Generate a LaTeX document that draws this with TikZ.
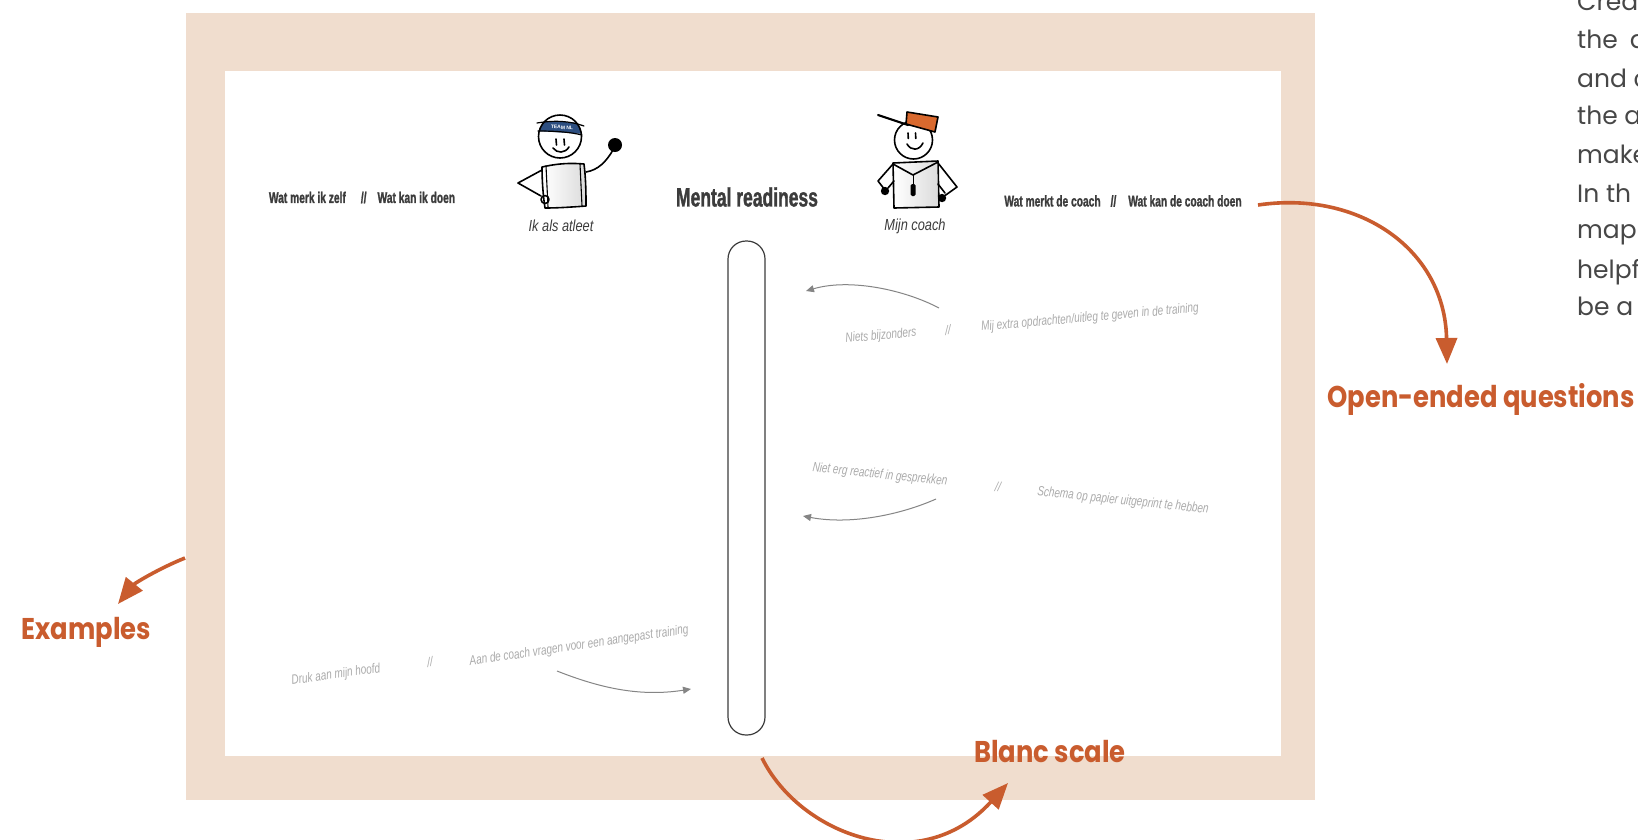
\documentclass[tikz,border=0pt]{standalone}
\usepackage{fontspec}
\usetikzlibrary{arrows.meta}
\setmainfont{Liberation Sans}
\newfontfamily\condfont{Liberation Sans Bold}[FakeStretch=0.66, FakeBold=1.3]
\newfontfamily\whofont{Liberation Sans}[FakeStretch=0.8]
\newfontfamily\samplefont{Liberation Sans}[FakeStretch=0.74]
\newfontfamily\labelfont{Poppins}[FakeStretch=0.86]
\newfontfamily\bodyfont{Poppins}

\definecolor{frame}{HTML}{F0DDCE}
\definecolor{accent}{HTML}{C95C2E}
\definecolor{sample}{HTML}{ABABAB}
\definecolor{ink}{HTML}{3C3C3C}
\definecolor{bodyink}{HTML}{474747}
\definecolor{capcol}{HTML}{D9692E}
\definecolor{band}{HTML}{2C4E80}
\definecolor{hintcol}{HTML}{858585}

\tikzset{
  hdr/.style={font=\condfont\fontsize{15.5}{18}\selectfont, text=ink, inner sep=0pt},
  title/.style={font=\condfont\fontsize{26.5}{30}\selectfont, text=ink, inner sep=0pt},
  who/.style={font=\whofont\itshape\fontsize{16}{19}\selectfont, text=ink, inner sep=0pt},
  sample/.style={font=\samplefont\itshape\fontsize{13.5}{16}\selectfont, text=sample, inner sep=0pt},
  callout/.style={font=\labelfont\bfseries\fontsize{30}{35}\selectfont, text=accent, inner sep=0pt},
  bodytext/.style={font=\bodyfont\fontsize{25}{29}\selectfont, text=bodyink, inner sep=0pt, anchor=base west},
  pointer/.style={draw=accent, line width=3.6pt, -{Triangle[length=26pt,width=21pt]}},
  hint/.style={draw=hintcol, line width=1pt, -{Triangle[length=8pt,width=7pt]}},
  sketch/.style={draw=black, line width=1.6pt, line cap=round, line join=round},
  scalebar/.style={draw=ink, line width=1.2pt, rounded corners=18pt, inner sep=0pt,
                   minimum width=37pt, minimum height=494pt},
}

\begin{document}
\begin{tikzpicture}[x=1pt,y=-1pt]
\useasboundingbox (0,0) rectangle (1638,839);
\fill[white] (0,0) rectangle (1638,839);

% sheet with its beige frame
\fill[frame] (186,12.5) rectangle (1315,800);
\fill[white] (224.6,71) rectangle (1280.7,756);

% headings
\node[hdr] (selfhdr) at (362,197.5) {Wat merk ik zelf\hspace{15pt}//\hspace{11pt}Wat kan ik doen};
\node[title] (title) at (747,197) {Mental readiness};
\node[hdr] (coachhdr) at (1123,201) {Wat merkt de coach\hspace{10pt}//\hspace{12pt}Wat kan de coach doen};
\node[who] (athlete) at (561,226) {Ik als atleet};
\node[who] (coach) at (915,226) {Mijn coach};

% athlete figure
\shade[left color=white, right color=gray!28] (543,166) -- (584,164) -- (586,205) -- (546,207) -- cycle;
\begin{scope}
  \clip (560,136.5) circle (21.5);
  \fill[band] (536,121) -- (586,123) -- (586,134) -- (536,131) -- cycle;
\end{scope}
\node[font=\fontsize{5}{5}\selectfont\bfseries, text=white, inner sep=0pt, rotate=-3] (teamnl) at (562,127.5) {TEAM NL};
\draw[sketch] (560,136.5) circle (21.5);
\draw[sketch, line width=1.2pt] (537,123) .. controls (555,120) and (570,121) .. (584,126);
\draw[sketch, line width=1.2pt] (538,131) .. controls (555,131) and (570,132) .. (582,135);
\draw[sketch] (556,139) -- (556.5,145);
\draw[sketch] (564,139) -- (564.5,145);
\draw[sketch] (553,148) .. controls (557,153.5) and (565,153.5) .. (569,147);
\draw[sketch] (542,167) .. controls (560,163) and (572,163) .. (584,164)
              .. controls (586,180) and (586,195) .. (586,206)
              .. controls (572,207) and (558,208) .. (545,208)
              .. controls (543,195) and (542,180) .. (542,167);
\draw[sketch, line width=1.1pt] (546,166) -- (548,207);
\draw[sketch, line width=1.1pt] (580,164) -- (582,206);
\draw[sketch] (542,170) -- (518,183) -- (541,196);
\draw[sketch] (545,199.5) circle (4);
\draw[sketch] (586,172) .. controls (598,170) and (606,162) .. (613,150);
\fill[black] (615,145) circle (7);

% coach figure
\shade[left color=white, right color=gray!28] (894,163) -- (937,161) -- (938,207) -- (894,208) -- cycle;
\draw[sketch] (913.5,140) circle (19);
\filldraw[sketch, fill=capcol] (907,112) -- (938,117) -- (935,132) -- (906,124) -- cycle;
\draw[sketch, line width=2.2pt] (878,115) -- (908,125);
\draw[sketch] (908,133) -- (908.3,138.5);
\draw[sketch] (915.5,133) -- (915.8,138.5);
\draw[sketch] (907,144) .. controls (911,151) and (919,151) .. (923,143);
\draw[sketch] (893,163) -- (938,161) -- (939,207) -- (894,208) -- cycle;
\draw[sketch] (893,164) -- (913,175) -- (938,162);
\draw[sketch] (893,164) -- (878,181) -- (885,190);
\draw[sketch] (894,181) -- (888,188);
\draw[sketch] (938,163) -- (957,187) -- (943,197);
\draw[sketch] (938,184) -- (945,193);
\fill[black] (885,191) circle (4.2);
\fill[black] (942,198) circle (4.2);
\draw[sketch, line width=1pt] (913,175) -- (913,184);
\fill[black, rounded corners=1.5pt] (910.5,184) rectangle (915.5,196);

% the empty scale
\node[scalebar] (scale) at (746.5,488) {};

% worked examples
\node[sample, rotate=5] (s1a) at (881,336) {Niets bijzonders};
\node[sample, rotate=5] (s1s) at (948,330) {//};
\node[sample, rotate=5] (s1b) at (1090,318) {Mij extra opdrachten/uitleg te geven in de training};
\coordinate (h1s) at (939,308);
\coordinate (h1e) at (806,291);
\draw[hint] (h1s) .. controls (905,290) and (850,278) .. (h1e);

\node[sample, rotate=-6] (s2a) at (880,475) {Niet erg reactief in gesprekken};
\node[sample, rotate=-6] (s2s) at (998,487) {//};
\node[sample, rotate=-6] (s2b) at (1123,501) {Schema op papier uitgeprint te hebben};
\coordinate (h2s) at (936,499);
\coordinate (h2e) at (803,516);
\draw[hint] (h2s) .. controls (900,515) and (850,525) .. (h2e);

\node[sample, rotate=8] (s3a) at (336,675) {Druk aan mijn hoofd};
\node[sample, rotate=8] (s3s) at (430,662) {//};
\node[sample, rotate=8.4] (s3b) at (579,646) {Aan de coach vragen voor een aangepast training};
\coordinate (h3s) at (557,671);
\coordinate (h3e) at (691,689);
\draw[hint] (h3s) .. controls (600,688) and (640,697) .. (h3e);

% callouts
\node[callout] (oq) at (1481,399) {Open-ended questions};
\node[callout] (ex) at (86.5,632) {Examples};
\node[callout] (bs) at (1050,752) {Blanc scale};
\coordinate (oqs) at (1258,205);
\coordinate (oqe) at (1447,364);
\draw[pointer] (oqs) .. controls (1360,190) and (1445,250) .. (oqe);
\coordinate (exs) at (185,558);
\coordinate (exe) at (118,604);
\draw[pointer] (exs) .. controls (160,568) and (135,583) .. (exe);
\coordinate (bss) at (762,758);
\coordinate (bse) at (1008,783);
\draw[pointer] (bss) .. controls (800,835) and (920,880) .. (bse);

% running text beside the sheet
\node[bodytext] (t1) at (1577,10) {Crea};
\node[bodytext] (t2) at (1577,48) {the\hspace{12pt}a};
\node[bodytext] (t3) at (1577,87) {and c};
\node[bodytext] (t4) at (1577,124) {the a};
\node[bodytext] (t5) at (1577,163) {make};
\node[bodytext] (t6) at (1577,202) {In th};
\node[bodytext] (t7) at (1577,238) {map};
\node[bodytext] (t8) at (1577,278) {helpf};
\node[bodytext] (t9) at (1577,315) {be a};
\end{tikzpicture}
\end{document}
